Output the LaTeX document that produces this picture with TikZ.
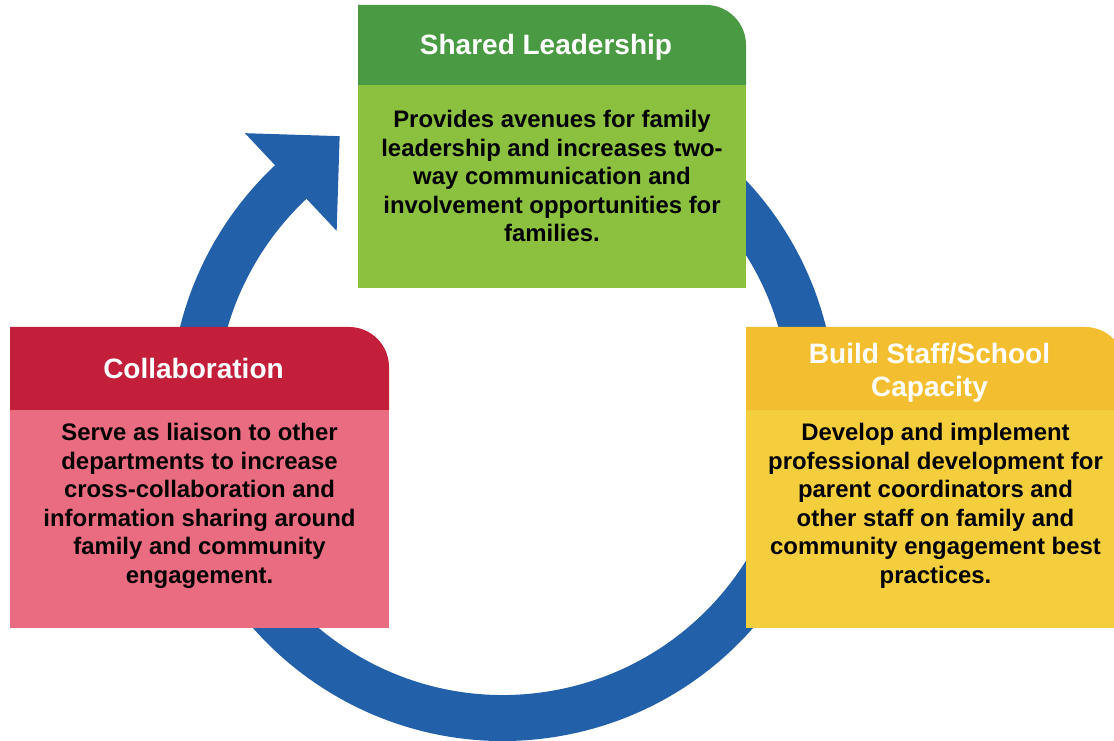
\documentclass[tikz,border=0pt]{standalone}
\usepackage{fontspec}
\setmainfont{Liberation Sans}
\usepackage{tikz}
\usetikzlibrary{calc,positioning}
\usepackage{xcolor}
\definecolor{ringblue}{RGB}{34,96,170}
\definecolor{greenhead}{RGB}{74,154,68}
\definecolor{greenbody}{RGB}{140,193,63}
\definecolor{redhead}{RGB}{195,30,58}
\definecolor{redbody}{RGB}{234,108,128}
\definecolor{yellowhead}{RGB}{243,190,48}
\definecolor{yellowbody}{RGB}{245,206,62}
\tikzset{
  ring/.style={line width=46pt,draw=ringblue},
  headtxt/.style={text=white,inner sep=0pt,align=center,
    font=\fontsize{28}{33}\selectfont\bfseries},
  bodytxt/.style={text=black,inner sep=0pt,align=center,
    font=\fontsize{23.9}{28.6}\selectfont\bfseries}
}

\begin{document}
\begin{tikzpicture}[x=1pt,y=1pt]
  \clip (0,0) rectangle (1114,741);
  % Cycle arrow behind the panels
  \coordinate (c) at (503,333);
  \draw[ring] ([shift={(100:310)}]c) arc[start angle=100,end angle=-227.5,radius=310];
  \fill[ringblue] ($(c)+(133.2:377)$) -- ($(c)+(133.2:310)+(43.2:67)$)
    -- ($(c)+(133.2:243)$) -- cycle;
  % Shared Leadership
  \begin{scope}
    \fill[greenbody] (358,453) rectangle (746,656);
    \fill[greenhead] (358,656) -- (358,736) -- (706,736)
      arc[start angle=90,end angle=0,radius=40] -- (746,656) -- cycle;
    \node[headtxt,anchor=base] (sharedhead) at (546,686) {Shared Leadership};
    \node[bodytxt,anchor=north] (sharedbody) at (552,631)
      {Provides avenues for family\\leadership and increases two-\\way communication and\\involvement opportunities for\\families.};
  \end{scope}
  % Collaboration
  \begin{scope}
    \fill[redbody] (10,113) rectangle (389,331);
    \fill[redhead] (10,331) -- (10,414) -- (349,414)
      arc[start angle=90,end angle=0,radius=40] -- (389,331) -- cycle;
    \node[headtxt,anchor=base] (collabhead) at (193.5,362) {Collaboration};
    \node[bodytxt,anchor=north] (collabbody) at (199.5,318)
      {Serve as liaison to other\\departments to increase\\cross-collaboration and\\information sharing around\\family and community\\engagement.};
  \end{scope}
  % Build Staff/School Capacity
  \begin{scope}
    \fill[yellowbody] (746,113) rectangle (1125,331);
    \fill[yellowhead] (746,331) -- (746,414) -- (1085,414)
      arc[start angle=90,end angle=0,radius=40] -- (1125,331) -- cycle;
    \node[headtxt,anchor=north] (capacityhead) at (929.5,398) {Build Staff/School\\Capacity};
    \node[bodytxt,anchor=north] (capacitybody) at (935.5,318)
      {Develop and implement\\professional development for\\parent coordinators and\\other staff on family and\\community engagement best\\practices.};
  \end{scope}
\end{tikzpicture}
\end{document}
